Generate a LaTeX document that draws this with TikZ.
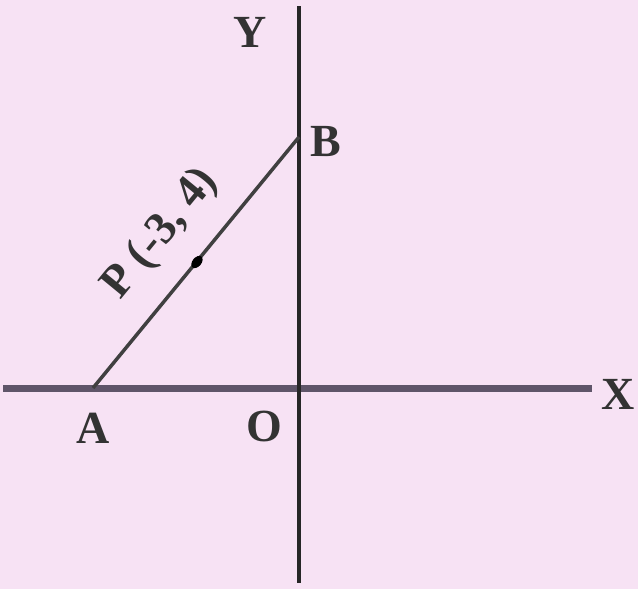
\documentclass[tikz,border=0pt]{standalone}
\usepackage{fontspec}
\setmainfont{Liberation Serif}
\definecolor{bgpink}{RGB}{247,226,244}
\definecolor{xgray}{RGB}{95,85,105}
\begin{document}
\begin{tikzpicture}[x=1pt,y=-1pt,
  lbl/.style={font=\fontsize{46}{46}\selectfont\bfseries, text=black!80, inner sep=0pt},
  axis/.style={line width=4pt, draw=black!85},
  xaxis/.style={line width=7pt, draw=xgray},
  seg/.style={line width=3.5pt, draw=black!75}]
\fill[bgpink] (0,0) rectangle (638,589);
\useasboundingbox (0,0) rectangle (638,589);
\coordinate (xl) at (3,388);
\coordinate (xr) at (592,388);
\coordinate (yt) at (299,6);
\coordinate (yb) at (299,583);
\coordinate (A) at (93,388);
\coordinate (B) at (299,137);
\coordinate (P) at (197,262);
\draw[xaxis] (xl) -- (xr);
\draw[axis] (yt) -- (yb);
\draw[seg] (A) -- (B);
\fill[black, rotate around={50.6:(P)}] (P) ellipse (7 and 4.5);
\node[lbl] (xlab) at (618,394) {X};
\node[lbl] (ylab) at (250,32) {Y};
\node[lbl] (blab) at (326,142) {B};
\node[lbl] (olab) at (264,426) {O};
\node[lbl] (alab) at (93,428) {A};
\node[lbl, font=\fontsize{46}{46}\selectfont\bfseries, rotate=50.6] (plab) at (161,234) {P (-3, 4)};
\end{tikzpicture}
\end{document}
